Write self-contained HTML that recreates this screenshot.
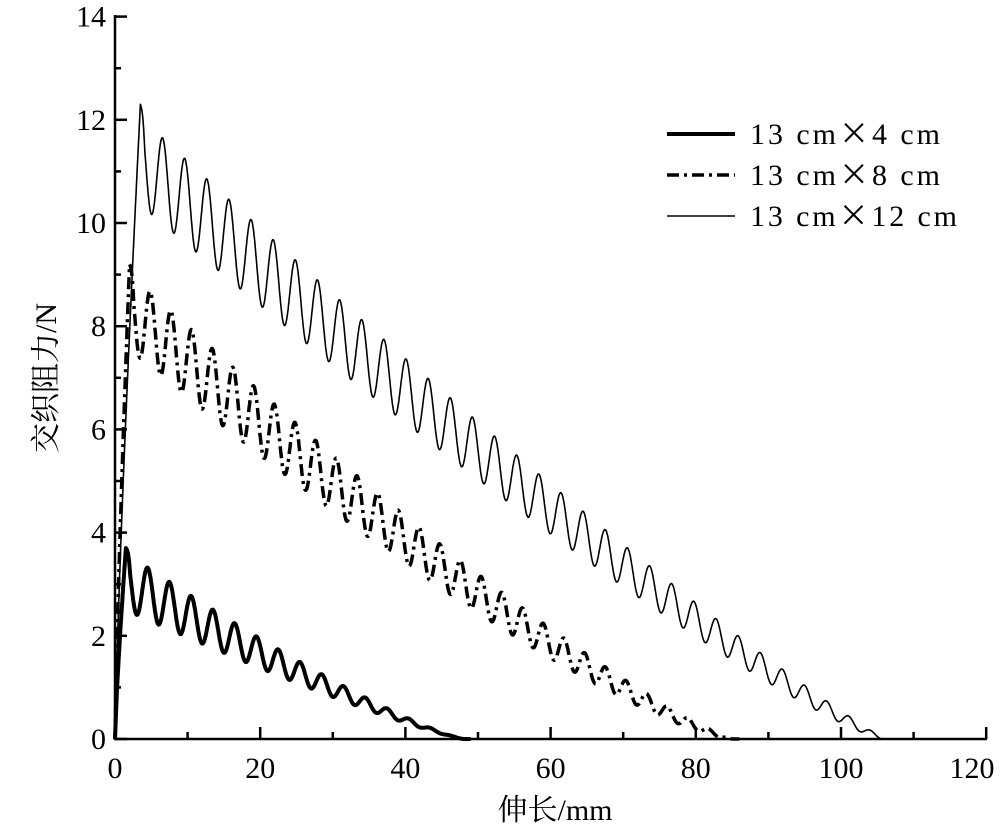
<!DOCTYPE html>
<html><head><meta charset="utf-8"><style>
body{margin:0;background:#fff;}
svg text{font-family:"Liberation Serif","Noto Serif CJK SC",serif;fill:#000;}
.cj{font-family:"Noto Sans CJK SC",sans-serif;}
</style></head><body>
<svg id="s" width="1000" height="834" xmlns="http://www.w3.org/2000/svg">
<g stroke="#000" stroke-width="2.5" fill="none">
<line x1="115" y1="15" x2="115" y2="740"/>
<line x1="114" y1="739" x2="987" y2="739"/>
</g>
<g id="ticks" stroke="#000" stroke-width="2.5"></g>
<g id="labels" font-size="30"></g>
<text x="555" y="820" font-size="30" text-anchor="middle">伸长/mm</text>
<text transform="translate(56,378) rotate(-90)" font-size="30" text-anchor="middle">交织阻力/N</text>
<g id="curves" fill="none" stroke="#000"></g>
<g stroke="#000">
<line x1="667" y1="134" x2="735" y2="134" stroke-width="4"/>
<line x1="667" y1="175" x2="735" y2="175" stroke-width="3.5" stroke-dasharray="12 5 3 5"/>
<line x1="667" y1="216" x2="735" y2="216" stroke-width="1.5"/>
</g>
<g font-size="30">
<text x="750" y="144" textLength="190" lengthAdjust="spacing">13 cm<tspan class="cj">×</tspan>4 cm</text>
<text x="750" y="185" textLength="190" lengthAdjust="spacing">13 cm<tspan class="cj">×</tspan>8 cm</text>
<text x="750" y="226" textLength="207" lengthAdjust="spacing">13 cm<tspan class="cj">×</tspan>12 cm</text>
</g>
</svg>
<script>
var NS="http://www.w3.org/2000/svg";
var X0=115,XS=7.26,Y0=739,YS=51.6;
function px(x){return X0+x*XS} function py(y){return Y0-y*YS}
var t=document.getElementById('ticks'),l=document.getElementById('labels');
function ln(a,b,c,d){var e=document.createElementNS(NS,'line');e.setAttribute('x1',a);e.setAttribute('y1',b);e.setAttribute('x2',c);e.setAttribute('y2',d);t.appendChild(e);}
function tx(x,y,s,a){var e=document.createElementNS(NS,'text');e.setAttribute('x',x);e.setAttribute('y',y);e.setAttribute('text-anchor',a);e.textContent=s;l.appendChild(e);}
for(var i=0;i<=120;i+=10){var X=px(i);ln(X,739,X,i%20?732:727);if(i%20==0)tx(i==120?972:X,778,i,'middle');}
for(var j=0;j<=14;j++){var Y=py(j);ln(115,Y,j%2?121:127,Y);if(j%2==0)tx(106,Y+10,j,'end');}
var c=document.getElementById('curves');
function curve(pk,xp,xe,m0,a0,ex,ae,per,sw,dash){
 var d="M"+px(0)+","+py(0);
 for(var x=0.2;x<=xe+1;x+=0.05){
  var y;
  var u=Math.max(0,1-(x-xp)/(xe-xp));
  var m=m0*Math.pow(u,ex),a=a0*Math.pow(u,ae);
  var osc=m+a*Math.cos(2*Math.PI*(x-xp)/per);
  if(x<xp){y=pk*Math.pow(x/xp,0.8);} else y=osc;
  if(x>=xp&&x<xp+0.6){var w=(x-xp)/0.6;y=pk*(1-w)+osc*w;}
  if(y<0)y=0;
  d+=" L"+px(x).toFixed(1)+","+py(y).toFixed(1);
 }
 var p=document.createElementNS(NS,'path');p.setAttribute('d',d);p.setAttribute('stroke-width',sw);
 if(dash)p.setAttribute('stroke-dasharray',dash);p.setAttribute('stroke-linejoin','round');c.appendChild(p);
}
curve(12.3,3.5,106,11.2,0.85,1.15,0.7,3.05,1.6,null);
curve(9.2,2.0,85,8.3,0.75,1.25,0.8,2.85,3.5,"12 5 3 5");
curve(3.7,1.5,48,3.05,0.55,1.2,1.3,3.0,4,null);
</script>
</body></html>
